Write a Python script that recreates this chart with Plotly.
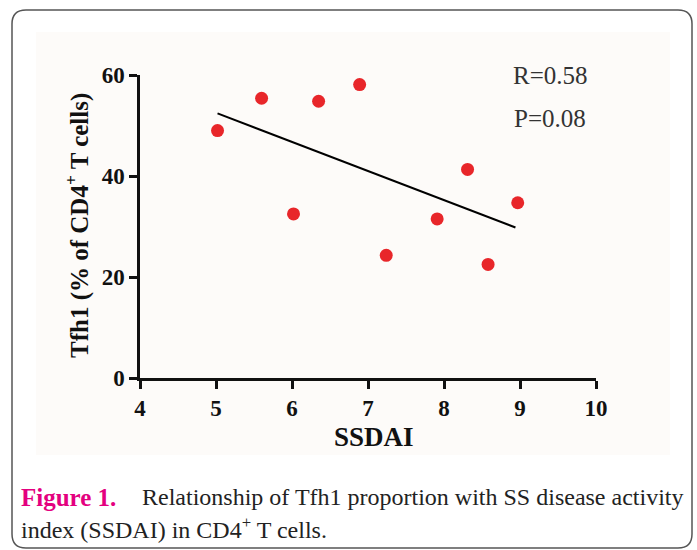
import plotly.graph_objects as go

# Data
ssdai = [5.02, 5.60, 6.35, 6.89, 6.02, 7.24, 7.91, 8.31, 8.58, 8.97]
tfh1 = [49.0, 55.4, 54.8, 58.1, 32.5, 24.3, 31.5, 41.3, 22.5, 34.7]
fit_x = [5.02, 8.94]
fit_y = [52.4, 29.8]
x_ticks = [4, 5, 6, 7, 8, 9, 10]
y_ticks = [0, 20, 40, 60]

W, H = 697, 550
L, R, T, B = 140, 596, 75, 378


def px(x):
    return (x - L) / (R - L)


def py(y):
    return (B - y) / (B - T)


SERIF = "Liberation Serif, Times New Roman, serif"

fig = go.Figure()
fig.add_trace(go.Scatter(x=fit_x, y=fit_y, mode="lines",
                         line=dict(color="black", width=2), showlegend=False))
fig.add_trace(go.Scatter(x=ssdai, y=tfh1, mode="markers",
                         marker=dict(color="#e8262a", size=13, line=dict(width=0)),
                         showlegend=False))

# rounded border
x0, x1, y0, y1, r = 12, 692, 10, 548, 14
path = (f"M {px(x0 + r)},{py(y0)} L {px(x1 - r)},{py(y0)} Q {px(x1)},{py(y0)} {px(x1)},{py(y0 + r)} "
        f"L {px(x1)},{py(y1 - r)} Q {px(x1)},{py(y1)} {px(x1 - r)},{py(y1)} "
        f"L {px(x0 + r)},{py(y1)} Q {px(x0)},{py(y1)} {px(x0)},{py(y1 - r)} "
        f"L {px(x0)},{py(y0 + r)} Q {px(x0)},{py(y0)} {px(x0 + r)},{py(y0)} Z")
shapes = [
    dict(type="rect", xref="paper", yref="paper", x0=px(36), x1=px(670), y0=py(455), y1=py(32),
         fillcolor="#fdfbf9", line=dict(width=0), layer="below"),
    dict(type="path", xref="paper", yref="paper", path=path,
         line=dict(color="#555555", width=1.5), layer="above"),
]

annotations = [
    dict(text="R=0.58", x=px(550), y=py(75), xref="paper", yref="paper", showarrow=False,
         xanchor="center", yanchor="middle", font=dict(family=SERIF, size=25, color="#333333")),
    dict(text="P=0.08", x=px(550), y=py(118), xref="paper", yref="paper", showarrow=False,
         xanchor="center", yanchor="middle", font=dict(family=SERIF, size=25, color="#333333")),
    dict(text="<b>Tfh1 (% of CD4<sup>+</sup> T cells)</b>", x=px(77), y=py(226), xref="paper", yref="paper",
         showarrow=False, textangle=-90, xanchor="center", yanchor="middle",
         font=dict(family=SERIF, size=25, color="#111111")),
    dict(text="<b>SSDAI</b>", x=px(374), y=py(437), xref="paper", yref="paper",
         showarrow=False, xanchor="center", yanchor="middle",
         font=dict(family=SERIF, size=27, color="#111111")),
    dict(text="<b>Figure 1.</b>", x=px(19), y=py(497), xref="paper", yref="paper", showarrow=False,
         xanchor="left", yanchor="middle", font=dict(family=SERIF, size=25, color="#e4007f")),
    dict(text="Relationship of Tfh1 proportion with SS disease activity",
         x=px(686), y=py(497), xref="paper", yref="paper", showarrow=False,
         xanchor="right", yanchor="middle", font=dict(family=SERIF, size=24, color="#222222")),
    dict(text="index (SSDAI) in CD4<sup>+</sup> T cells.", x=px(19), y=py(528), xref="paper", yref="paper",
         showarrow=False, xanchor="left", yanchor="middle",
         font=dict(family=SERIF, size=24, color="#222222")),
]

fig.update_layout(
    width=W, height=H,
    margin=dict(l=L, r=W - R, t=T, b=H - B, pad=0),
    paper_bgcolor="white", plot_bgcolor="rgba(0,0,0,0)",
    shapes=shapes, annotations=annotations,
    font=dict(family=SERIF, color="#111111"),
)
fig.update_xaxes(range=[4, 10], tickvals=x_ticks, ticktext=[f"<b>{v}</b>" for v in x_ticks],
                 showgrid=False, zeroline=False, showline=True, linecolor="#111111", linewidth=2.5,
                 ticks="outside", ticklen=8, tickwidth=2.5, tickcolor="#111111",
                 tickfont=dict(family=SERIF, size=23, color="#111111"))
fig.update_yaxes(range=[0, 60], tickvals=y_ticks, ticktext=[f"<b>{v}</b>" for v in y_ticks],
                 showgrid=False, zeroline=False, showline=True, linecolor="#111111", linewidth=2.5,
                 ticks="outside", ticklen=8, tickwidth=2.5, tickcolor="#111111",
                 tickfont=dict(family=SERIF, size=23, color="#111111"))

fig.write_html("out.html")
